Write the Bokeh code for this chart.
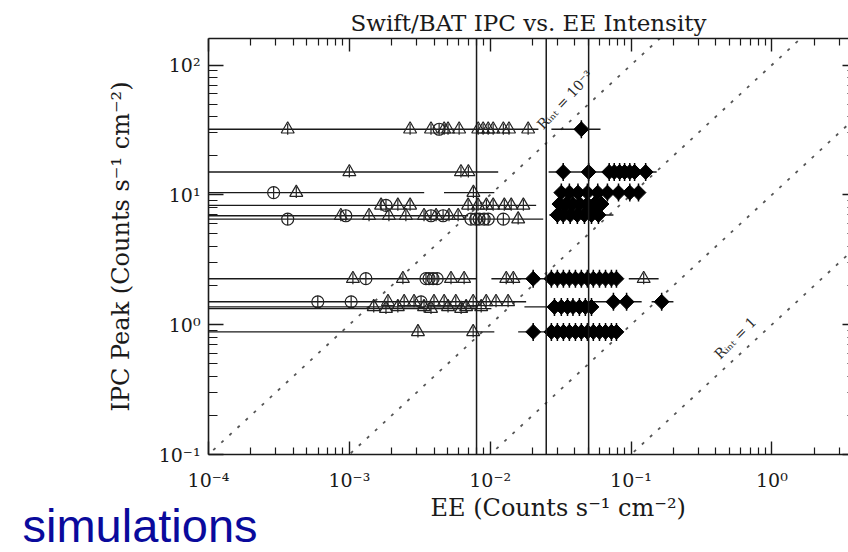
import math
from bokeh.plotting import figure
from bokeh.models import LogAxis, FixedTicker, Span, Title, CustomJSTickFormatter
from bokeh.embed import file_html
from bokeh.resources import INLINE

# ---------------- data ----------------
x_ticks = [1e-4, 1e-3, 1e-2, 1e-1, 1.0]
x_tick_labels = ["10⁻⁴", "10⁻³", "10⁻²", "10⁻¹", "10⁰"]
y_ticks = [0.1, 1.0, 10.0, 100.0]
y_tick_labels = ["10⁻¹", "10⁰", "10¹", "10²"]

vline_x = [0.008, 0.025, 0.05]
r_int = [1e-3, 1e-2, 1e-1, 1.0]

# open triangles
tri_x = [3.65e-4, 2.70e-3, 3.80e-3, 4.71e-3, 5.02e-3, 6.02e-3, 8.22e-3, 8.91e-3, 9.68e-3, 0.0105, 0.0124, 0.0136, 0.0186,
         1.0e-3, 6.2e-3, 7.0e-3,
         4.2e-4, 7.6e-3,
         1.68e-3, 2.21e-3, 2.70e-3, 6.97e-3, 8.2e-3, 9.4e-3, 0.0105, 0.0126, 0.0141, 0.0172,
         8.7e-4, 1.38e-3, 1.91e-3, 2.52e-3, 3.39e-3, 4.13e-3, 5.1e-3, 5.92e-3,
         0.0158,
         1.06e-3, 2.40e-3, 5.27e-3, 6.53e-3, 0.0130, 0.0146, 0.123,
         1.88e-3, 2.45e-3, 2.88e-3, 3.99e-3, 4.71e-3, 5.7e-3, 7.57e-3, 9.37e-3, 0.0110, 0.0134,
         1.49e-3, 2.21e-3, 3.39e-3, 5.02e-3, 6.75e-3, 8.63e-3,
         1.82e-3, 3.80e-3, 6.22e-3,
         3.07e-3, 7.57e-3]
tri_y = [32] * 13 + [15] * 3 + [10.4] * 2 + [8.3] * 10 + [6.9] * 8 + [6.5] * 1 + \
        [2.26] * 7 + [1.50] * 10 + [1.37] * 6 + [1.33] * 3 + [0.88] * 2

# open circles
circ_x = [4.34e-3,
          2.9e-4,
          1.82e-3,
          9.44e-4, 3.80e-3, 4.63e-3,
          3.65e-4, 7.3e-3, 7.9e-3, 8.35e-3, 9.06e-3, 9.68e-3, 0.0124,
          1.31e-3, 3.50e-3, 3.68e-3, 3.93e-3, 4.2e-3,
          5.97e-4, 1.03e-3, 3.23e-3]
circ_y = [32] * 1 + [10.4] * 1 + [8.3] * 1 + [6.9] * 3 + [6.5] * 7 + [2.26] * 5 + [1.50] * 3

# filled diamonds
dia_x = [0.0444,
         0.033, 0.050, 0.070, 0.076, 0.083, 0.090, 0.098, 0.106, 0.127,
         0.032, 0.0365, 0.042, 0.049, 0.058, 0.068, 0.0815, 0.098, 0.113,
         0.031, 0.0347, 0.0387, 0.0433, 0.049, 0.055, 0.0617,
         0.030, 0.033, 0.037, 0.0416, 0.0467, 0.0524, 0.0587,
         0.0202, 0.0272, 0.0300, 0.0331, 0.0365, 0.0403, 0.0444, 0.049, 0.054, 0.0597, 0.0659, 0.0726, 0.0788,
         0.075, 0.093, 0.165,
         0.0286, 0.032, 0.0354, 0.0387, 0.043, 0.0474, 0.0524,
         0.0202, 0.0272, 0.0300, 0.0331, 0.0365, 0.0403, 0.0444, 0.049, 0.054, 0.0597, 0.0659, 0.0726, 0.0788]
dia_y = [32] * 1 + [15] * 9 + [10.4] * 9 + [8.5] * 7 + [7.0] * 7 + [2.26] * 13 + [1.50] * 3 + [1.37] * 7 + [0.88] * 13

# horizontal (EE) error bars
bar_y = [32, 32, 15, 15, 10.4, 10.4, 10.4, 8.3, 8.5, 6.9, 7.0, 6.5,
         2.26, 2.26, 2.26, 2.26, 1.50, 1.50, 1.50, 1.37, 1.37, 1.33, 0.88, 0.88]
bar_lo = [5e-5, 0.0272, 5e-5, 0.026, 5e-5, 4.7e-3, 0.0286, 5e-5, 0.0281, 5e-5, 0.0263, 5e-5,
          5e-5, 0.0102, 0.0153, 0.0964, 5e-5, 0.0524, 0.140, 5e-5, 0.0175, 5e-5, 5e-5, 0.0158]
bar_hi = [0.0220, 0.0607, 0.0114, 0.152, 3.4e-3, 0.0107, 0.119, 0.0212, 0.0617, 6.97e-3, 0.075, 0.0238,
          7.94e-3, 0.0166, 0.0856, 0.157, 0.018, 0.119, 0.200, 8.2e-3, 0.0587, 0.0102, 0.0107, 0.0856]

# ---------------- figure ----------------
X_RANGE = (1e-4, 3.5)
Y_RANGE = (0.1, 160)
SERIF = "DejaVu Serif"
INK = "#1a1a1a"

p = figure(width=848, height=552, x_axis_type="log", y_axis_type="log",
           x_range=X_RANGE, y_range=Y_RANGE, output_backend="svg", toolbar_location=None,
           min_border_left=208, min_border_right=0, min_border_top=38, min_border_bottom=98,
           outline_line_color=None, background_fill_color="white", border_fill_color="white")
p.grid.visible = False

p.title.text = "Swift/BAT IPC vs. EE Intensity"
p.title.align = "center"
p.title.text_font = SERIF
p.title.text_font_size = "23px"
p.title.text_font_style = "normal"
p.title.text_color = INK
p.title.standoff = 5


def minor_ticks(lo_exp, hi_exp):
    return [m * 10.0 ** k for k in range(lo_exp, hi_exp) for m in range(2, 10)]


x_fixed = dict(ticks=x_ticks, minor_ticks=minor_ticks(-5, 2))
y_fixed = dict(ticks=y_ticks, minor_ticks=minor_ticks(-2, 3))


def style(ax, fixed, major_in, minor_in):
    ax.ticker = FixedTicker(**fixed)
    ax.major_tick_in = major_in
    ax.major_tick_out = 0
    ax.minor_tick_in = minor_in
    ax.minor_tick_out = 0
    ax.axis_line_width = 1.6
    ax.major_tick_line_width = 1.4
    ax.minor_tick_line_width = 1.2
    ax.axis_line_color = INK
    ax.major_tick_line_color = INK
    ax.minor_tick_line_color = INK
    ax.major_label_text_font = SERIF
    ax.major_label_text_font_size = "19px"
    ax.major_label_text_color = INK
    ax.axis_label_text_font = SERIF
    ax.axis_label_text_font_size = "24px"
    ax.axis_label_text_font_style = "normal"
    ax.axis_label_text_color = INK


xa = p.xaxis[0]
style(xa, x_fixed, 13, 7)
xa.major_label_overrides = dict(zip(x_ticks, x_tick_labels))
xa.major_label_standoff = 14

ya = p.yaxis[0]
style(ya, y_fixed, 15, 9)
ya.major_label_overrides = dict(zip(y_ticks, y_tick_labels))
ya.axis_label = "IPC Peak (Counts s⁻¹ cm⁻²)"
ya.major_label_standoff = 8
ya.axis_label_standoff = 21

blank = "return ''"
top = LogAxis()
style(top, x_fixed, 13, 7)
top.formatter = CustomJSTickFormatter(code=blank)
top.major_label_standoff = 0
top.major_label_text_font_size = "1px"
p.add_layout(top, "above")

right = LogAxis()
style(right, y_fixed, 6, 1)
right.axis_line_color = None
right.formatter = CustomJSTickFormatter(code=blank)
right.major_label_standoff = 0
right.major_label_text_font_size = "1px"
p.add_layout(right, "right")

# x-axis title (placed as a below-panel title so it can sit right of centre as in the original)
p.add_layout(Title(text="EE (Counts s⁻¹ cm⁻²)", align="left", offset=222, standoff=0, vertical_align="top",
                   text_font=SERIF, text_font_size="24px", text_font_style="normal",
                   text_color=INK), "below")

# vertical lines
for xv in vline_x:
    p.add_layout(Span(location=xv, dimension="height", line_color=INK, line_width=1.5))

# constant-ratio dashed lines  (IPC = EE / R_int)
xs_end = [1e-5, 100.0]
p.multi_line(xs=[xs_end for r in r_int], ys=[[xe / r for xe in xs_end] for r in r_int],
             line_color="#555555", line_width=1.8, line_dash="3 8")

p.text(x=[0.034], y=[54], text=["Rᵢₙₜ = 10⁻³"], angle=math.radians(47),
       text_align="center", text_baseline="middle", text_font_size="14px",
       text_color="#2a2a2a", text_font={"value": SERIF})
p.text(x=[0.55], y=[0.79], text=["Rᵢₙₜ = 1"], angle=math.radians(45),
       text_align="center", text_baseline="middle", text_font_size="14px",
       text_color="#2a2a2a", text_font={"value": SERIF})

# error bars
p.segment(x0=bar_lo, y0=bar_y, x1=bar_hi, y1=bar_y, line_color=INK, line_width=1.4)

# markers
p.scatter(tri_x, tri_y, marker="triangle", size=13, fill_color=None, line_color="#222222", line_width=1.2)
p.scatter(tri_x, tri_y, marker="dash", angle=math.pi / 2, size=11, line_color="#222222", line_width=1.2)
p.scatter(circ_x, circ_y, marker="circle", size=12, fill_color=None, line_color="#222222", line_width=1.2)
p.scatter(circ_x, circ_y, marker="dash", angle=math.pi / 2, size=12, line_color="#222222", line_width=1.2)
p.scatter(dia_x, dia_y, marker="square", angle=math.pi / 4, size=10.5, fill_color="black", line_color="black")
p.scatter(dia_x, dia_y, marker="dash", angle=math.pi / 2, size=18, line_color="black", line_width=1.5)

# slide caption below the chart
p.add_layout(Title(text="simulations", align="left", offset=-186, standoff=-50, vertical_align="top",
                   text_font="Liberation Sans", text_font_size="47px", text_font_style="normal",
                   text_color="#0a0a9c"), "below")

open("out.html", "w").write(file_html(p, INLINE))
